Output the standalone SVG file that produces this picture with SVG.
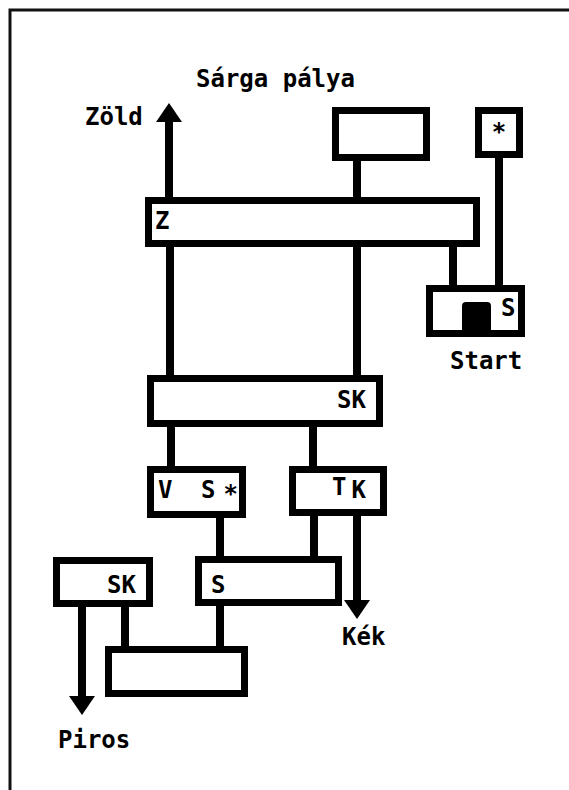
<svg xmlns="http://www.w3.org/2000/svg" width="569" height="790" viewBox="0 0 569 790">
  <style>
    .box{fill:#fff;stroke:#000;stroke-width:7}
    .wire{stroke:#000;stroke-width:8;fill:none}
    .t{font-family:"DejaVu Sans Mono","Liberation Mono",monospace;font-weight:bold;font-size:24px;fill:#000}
    .frame{stroke:#111;stroke-width:3;fill:none}
  </style>
  <defs>
    <marker id="ah" markerUnits="userSpaceOnUse" markerWidth="19" markerHeight="26" viewBox="0 0 19 26" refX="1" refY="13" orient="auto">
      <path d="M0,0 L19,13 L0,26 Z" fill="#000"/>
    </marker>
  </defs>
  <rect width="569" height="790" fill="#fff"/>
  <path class="frame" d="M10,790 V10 H569"/>

  <text class="t" x="196" y="87">Sárga pálya</text>
  <text class="t" x="85" y="125">Zöld</text>
  <text class="t" x="342" y="645">Kék</text>
  <text class="t" x="58" y="748">Piros</text>
  <text class="t" x="450" y="369">Start</text>

  <g id="connectors">
    <line class="wire" x1="169" y1="200" x2="169" y2="121" marker-end="url(#ah)"/>
    <line class="wire" x1="357" y1="158" x2="357" y2="200"/>
    <line class="wire" x1="499" y1="155" x2="499" y2="288"/>
    <line class="wire" x1="170" y1="244" x2="170" y2="378"/>
    <line class="wire" x1="357" y1="244" x2="357" y2="378"/>
    <line class="wire" x1="453" y1="244" x2="453" y2="288"/>
    <line class="wire" x1="171" y1="424" x2="171" y2="469"/>
    <line class="wire" x1="313" y1="424" x2="313" y2="469"/>
    <line class="wire" x1="220" y1="515" x2="220" y2="559"/>
    <line class="wire" x1="314" y1="513" x2="314" y2="559"/>
    <line class="wire" x1="357" y1="513" x2="357" y2="601" marker-end="url(#ah)"/>
    <line class="wire" x1="82" y1="604" x2="82" y2="697" marker-end="url(#ah)"/>
    <line class="wire" x1="125" y1="604" x2="125" y2="649"/>
    <line class="wire" x1="220" y1="603" x2="220" y2="649"/>
  </g>

  <g id="top-box">
    <rect class="box" x="335.5" y="110.5" width="91" height="47"/>
  </g>
  <g id="star-box">
    <rect class="box" x="478.5" y="110.5" width="41" height="44"/>
    <text class="t" x="499" y="140" text-anchor="middle">*</text>
  </g>
  <g id="z-box">
    <rect class="box" x="148.5" y="200.5" width="328" height="43"/>
    <text class="t" x="155" y="229">Z</text>
  </g>
  <g id="start-box">
    <rect class="box" x="429.5" y="288.5" width="92" height="45"/>
    <rect x="462" y="302" width="29" height="34" rx="4" fill="#000"/>
    <text class="t" x="501" y="316">S</text>
  </g>
  <g id="sk-box">
    <rect class="box" x="150.5" y="378.5" width="229" height="45"/>
    <text class="t" x="337" y="408">SK</text>
  </g>
  <g id="vs-box">
    <rect class="box" x="150.5" y="469.5" width="92" height="45"/>
    <text class="t" x="158" y="498">V</text>
    <text class="t" x="201" y="498">S<tspan dx="8" dy="4">*</tspan></text>
  </g>
  <g id="tk-box">
    <rect class="box" x="292.5" y="469.5" width="91" height="43"/>
    <text class="t" x="332" y="495">T<tspan dx="5" dy="3">K</tspan></text>
  </g>
  <g id="s-box">
    <rect class="box" x="198.5" y="559.5" width="140" height="43"/>
    <text class="t" x="211" y="593">S</text>
  </g>
  <g id="sk-lower-box">
    <rect class="box" x="56.5" y="560.5" width="93" height="43"/>
    <text class="t" x="107" y="593">SK</text>
  </g>
  <g id="bottom-box">
    <rect class="box" x="108.5" y="649.5" width="136" height="44"/>
  </g>
</svg>
